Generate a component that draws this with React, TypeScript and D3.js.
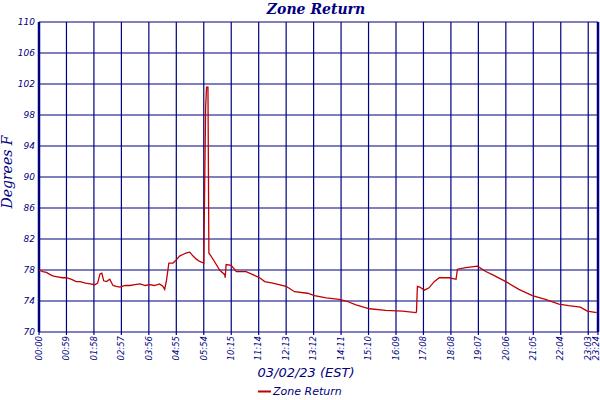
import * as d3 from 'd3';
import React, { useEffect, useRef } from 'react';

// x = recorded minutes (sample axis, gap after 05:54), y = °F
const sampleMinutes = [
  0, 8, 16, 24, 31, 40, 50, 59, 70, 80, 88, 100, 110, 120, 126, 131, 135, 139, 145, 152, 159,
  166, 174, 185, 195, 206, 217, 228, 238, 248, 259, 266, 270, 274, 279, 288, 295, 302, 309,
  317, 324, 331, 338, 345, 354, 356, 358, 360, 363, 365, 377, 388, 399, 400, 402, 413, 424,
  445, 474, 485, 502, 531, 549, 577, 592, 617, 645, 660, 681, 710, 745, 781, 810, 811, 813,
  818, 828, 838, 849, 860, 881, 896, 899, 917, 942, 960, 974, 1003, 1031, 1060, 1088, 1117,
  1138, 1163, 1178, 1198,
];
const zoneReturn = [
  78.0, 77.8, 77.7, 77.4, 77.2, 77.1, 77.0, 77.0, 76.8, 76.5, 76.5, 76.3, 76.2, 76.1, 76.3, 77.5,
  77.6, 76.6, 76.5, 76.8, 76.0, 75.9, 75.8, 76.0, 76.0, 76.1, 76.2, 76.0, 76.1, 76.0, 76.2,
  75.9, 75.5, 76.7, 78.9, 78.9, 79.3, 79.8, 80.0, 80.2, 80.3, 79.8, 79.4, 79.1, 78.9, 89.0,
  99.0, 101.6, 101.6, 80.2, 79.1, 78.0, 77.4, 77.0, 78.7, 78.6, 77.8, 77.8, 77.0, 76.5, 76.3,
  75.9, 75.2, 75.0, 74.7, 74.4, 74.2, 74.0, 73.5, 73.0, 72.8, 72.7, 72.5, 72.6, 75.9, 75.8,
  75.4, 75.7, 76.5, 77.0, 77.0, 76.8, 78.1, 78.3, 78.5, 77.8, 77.4, 76.5, 75.5, 74.7, 74.2,
  73.6, 73.4, 73.2, 72.7, 72.5,
];

const tickLabels = [
  '00:00', '00:59', '01:58', '02:57', '03:56', '04:55', '05:54', '10:15', '11:14', '12:13',
  '13:12', '14:11', '15:10', '16:09', '17:08', '18:08', '19:07', '20:06', '21:05', '22:04',
  '23:03', '23:24',
];
const tickMinutes = [
  0, 59, 118, 177, 236, 295, 354, 413, 472, 531, 590, 649, 708, 767, 826, 885, 944, 1003,
  1062, 1121, 1180, 1201,
];
const yTicks = [70, 74, 78, 82, 86, 90, 94, 98, 102, 106, 110];

const width = 600;
const height = 400;
const navy = '#000080';
const sansItalic = '"DejaVu Sans", Verdana, sans-serif';
const serif = '"DejaVu Serif", "Liberation Serif", serif';

const App: React.FC = () => {
  const svgRef = useRef<SVGSVGElement>(null);

  useEffect(() => {
    document.body.style.margin = '0';
    if (!svgRef.current) return;
    const svg = d3.select(svgRef.current);
    svg.selectAll('*').remove();

    const margin = { top: 22, right: 2, bottom: 68, left: 39 };
    const innerWidth = width - margin.left - margin.right;
    const innerHeight = height - margin.top - margin.bottom;

    const x = d3.scaleLinear().domain([0, 1201]).range([0, innerWidth]);
    const y = d3.scaleLinear().domain([70, 110]).range([innerHeight, 0]);

    const g = svg.append('g').attr('transform', `translate(${margin.left},${margin.top})`);

    // grid
    g.selectAll('line.hgrid')
      .data(yTicks)
      .join('line')
      .attr('class', 'hgrid')
      .attr('x1', 0)
      .attr('x2', innerWidth)
      .attr('y1', d => y(d))
      .attr('y2', d => y(d))
      .attr('stroke', navy)
      .attr('stroke-width', 1.2);

    g.selectAll('line.vgrid')
      .data(tickMinutes)
      .join('line')
      .attr('class', 'vgrid')
      .attr('x1', d => x(d))
      .attr('x2', d => x(d))
      .attr('y1', 0)
      .attr('y2', innerHeight + 3)
      .attr('stroke', navy)
      .attr('stroke-width', 1.2);

    // frame: heavier left and right edges
    g.append('line')
      .attr('x1', 0).attr('x2', 0)
      .attr('y1', 0).attr('y2', innerHeight)
      .attr('stroke', navy).attr('stroke-width', 2.5);
    g.append('line')
      .attr('x1', innerWidth).attr('x2', innerWidth)
      .attr('y1', 0).attr('y2', innerHeight)
      .attr('stroke', navy).attr('stroke-width', 2.5);

    // y tick labels
    g.selectAll('text.ylab')
      .data(yTicks)
      .join('text')
      .attr('class', 'ylab')
      .attr('x', -4)
      .attr('y', d => y(d))
      .attr('dy', '0.32em')
      .attr('text-anchor', 'end')
      .attr('font-family', sansItalic)
      .attr('font-style', 'italic')
      .attr('font-size', '9px')
      .attr('fill', navy)
      .text(d => d);

    // x tick labels (rotated); keep the last one inside the picture
    g.selectAll('text.xlab')
      .data(tickMinutes)
      .join('text')
      .attr('class', 'xlab')
      .attr('transform', d => `translate(${Math.min(x(d), innerWidth - 1.5)},${innerHeight + 4}) rotate(-90)`)
      .attr('dy', '0.32em')
      .attr('text-anchor', 'end')
      .attr('font-family', sansItalic)
      .attr('font-style', 'italic')
      .attr('font-size', '8.5px')
      .attr('fill', navy)
      .text((d, i) => tickLabels[i]);

    // data line
    const pts = sampleMinutes.map((m, i) => [m, zoneReturn[i]] as [number, number]);
    const line = d3.line<[number, number]>()
      .x(d => x(d[0]))
      .y(d => y(d[1]));
    g.append('path')
      .datum(pts)
      .attr('d', line)
      .attr('fill', 'none')
      .attr('stroke', '#c00000')
      .attr('stroke-width', 1.3);

    // title
    svg.append('text')
      .attr('x', 316)
      .attr('y', 14)
      .attr('text-anchor', 'middle')
      .attr('font-family', serif)
      .attr('font-style', 'italic')
      .attr('font-weight', '600')
      .attr('font-size', '14px')
      .attr('fill', navy)
      .text('Zone Return');

    // y axis title
    svg.append('text')
      .attr('transform', `translate(12, 172) rotate(-90)`)
      .attr('text-anchor', 'middle')
      .attr('font-family', serif)
      .attr('font-style', 'italic')
      .attr('font-size', '14px')
      .attr('fill', navy)
      .text('Degrees F');

    // x axis title
    svg.append('text')
      .attr('x', 306)
      .attr('y', 377)
      .attr('text-anchor', 'middle')
      .attr('font-family', sansItalic)
      .attr('font-style', 'italic')
      .attr('font-size', '13px')
      .attr('fill', navy)
      .text('03/02/23 (EST)');

    // legend
    svg.append('line')
      .attr('x1', 258).attr('x2', 271)
      .attr('y1', 391.5).attr('y2', 391.5)
      .attr('stroke', '#c00000').attr('stroke-width', 2);
    svg.append('text')
      .attr('x', 273)
      .attr('y', 395)
      .attr('font-family', sansItalic)
      .attr('font-style', 'italic')
      .attr('font-size', '11px')
      .attr('fill', navy)
      .text('Zone Return');
  }, []);

  return <svg ref={svgRef} width={width} height={height} style={{ display: 'block', background: '#fff' }} />;
};

export default App;
